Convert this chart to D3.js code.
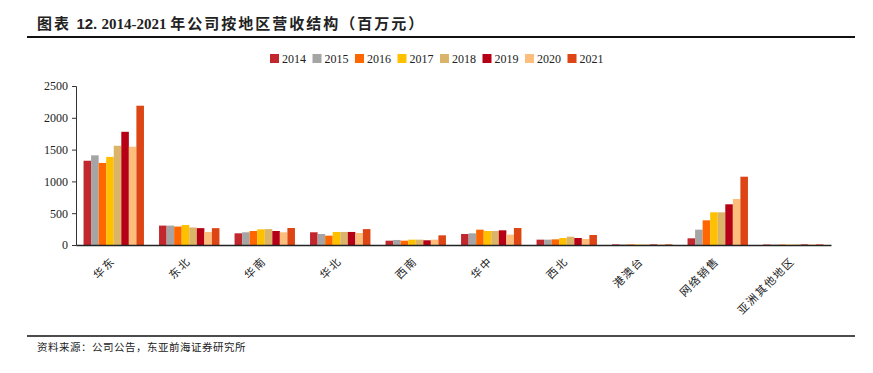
<!DOCTYPE html>
<html>
<head>
<meta charset="utf-8">
<script src="https://cdn.jsdelivr.net/npm/d3@7"></script>
<style>
  body { margin: 0; background: #fff; }
  svg text { fill: #222; }
</style>
</head>
<body>
<svg id="chart" width="873" height="373"></svg>
<script>
// regions and years
var regions = ["华东", "东北", "华南", "华北", "西南", "华中", "西北", "港澳台", "网络销售", "亚洲其他地区"];
var years = ["2014", "2015", "2016", "2017", "2018", "2019", "2020", "2021"];
var yearColors = ["#C1272D", "#A5A5A5", "#FF6600", "#FFC000", "#DAB468", "#B50016", "#FDBE7B", "#DD4515"];

// revenue per region, one array per year (百万元)
var v2014 = [1325, 305, 184, 200, 68, 173, 84, 10, 105, 8];
var v2015 = [1410, 305, 200, 173, 79, 184, 84, 9, 241, 7];
var v2016 = [1290, 290, 220, 147, 68, 241, 89, 10, 388, 8];
var v2017 = [1385, 315, 246, 205, 84, 220, 110, 8, 514, 7];
var v2018 = [1560, 275, 250, 205, 84, 220, 131, 8, 514, 8];
var v2019 = [1780, 265, 220, 205, 74, 231, 110, 9, 640, 9];
var v2020 = [1545, 205, 200, 189, 84, 162, 94, 8, 723, 8];
var v2021 = [2190, 265, 267, 250, 152, 267, 157, 10, 1074, 10];
var seriesValues = [v2014, v2015, v2016, v2017, v2018, v2019, v2020, v2021];

var yTicks = [0, 500, 1000, 1500, 2000, 2500];

var svg = d3.select("#chart");
var serif = "'Liberation Serif', 'Times New Roman', serif";
var cjk = "'Noto Sans CJK SC', sans-serif";

// title
var title = svg.append("text").attr("x", 37).attr("y", 29)
    .style("font-size", "15px").style("font-weight", "bold");
title.append("tspan").style("font-family", cjk).style("letter-spacing", "2px").text("图表 ");
title.append("tspan").style("font-family", "'Liberation Sans', Arial, sans-serif").text("12. ");
title.append("tspan").style("font-family", serif).text("2014-2021 ");
title.append("tspan").style("font-family", cjk).style("letter-spacing", "2px").text("年公司按地区营收结构（百万元）");

svg.append("line").attr("x1", 27).attr("x2", 855).attr("y1", 37).attr("y2", 37)
    .attr("stroke", "#111").attr("stroke-width", 2);

// scales
var x0 = d3.scaleBand().domain(regions).range([76, 831]).paddingInner(0.2).paddingOuter(0.1);
var x1 = d3.scaleBand().domain(years).range([0, x0.bandwidth()]);
var y = d3.scaleLinear().domain([0, 2500]).range([245, 86]);

// bars
var groups = svg.append("g").selectAll("g")
    .data(regions)
    .enter().append("g")
    .attr("transform", function (d) { return "translate(" + x0(d) + ",0)"; });

groups.selectAll("rect")
    .data(function (d, i) {
        return years.map(function (yr, k) { return { year: yr, value: seriesValues[k][i], k: k }; });
    })
    .enter().append("rect")
    .attr("x", function (d) { return x1(d.year); })
    .attr("width", x1.bandwidth())
    .attr("y", function (d) { return y(d.value); })
    .attr("height", function (d) { return y(0) - y(d.value); })
    .attr("fill", function (d) { return yearColors[d.k]; });

// y axis
var yAxis = svg.append("g").attr("transform", "translate(76,0)")
    .call(d3.axisLeft(y).tickValues(yTicks).tickFormat(d3.format("d")).tickSize(4).tickPadding(4));
yAxis.select(".domain").attr("stroke", "#333");
yAxis.selectAll(".tick line").attr("stroke", "#333");
yAxis.selectAll("text").style("font-family", serif).style("font-size", "12px").attr("fill", "#222");

// x axis
var xAxis = svg.append("g").attr("transform", "translate(0,245)")
    .call(d3.axisBottom(x0).tickSize(0).tickPadding(0));
xAxis.select(".domain").attr("stroke", "#222").attr("stroke-width", 1.5);
xAxis.selectAll("text")
    .style("font-family", cjk).style("font-size", "11px").style("letter-spacing", "1.5px")
    .attr("fill", "#333")
    .attr("text-anchor", "end")
    .attr("dy", 0)
    .attr("transform", "translate(2,17) rotate(-45)");

// legend
var legend = svg.append("g").selectAll("g")
    .data(years)
    .enter().append("g")
    .attr("transform", function (d, i) { return "translate(" + (270 + i * 42.5) + ",54)"; });
legend.append("rect").attr("width", 9).attr("height", 9)
    .attr("fill", function (d, i) { return yearColors[i]; });
legend.append("text").attr("x", 12).attr("y", 9)
    .style("font-family", serif).style("font-size", "12px")
    .text(function (d) { return d; });

// source
svg.append("line").attr("x1", 27).attr("x2", 855).attr("y1", 336).attr("y2", 336)
    .attr("stroke", "#111").attr("stroke-width", 1.5);
svg.append("text").attr("x", 37).attr("y", 351)
    .style("font-family", cjk).style("font-size", "10.5px").style("letter-spacing", "0.5px")
    .attr("fill", "#333")
    .text("资料来源：公司公告，东亚前海证券研究所");
</script>
</body>
</html>
